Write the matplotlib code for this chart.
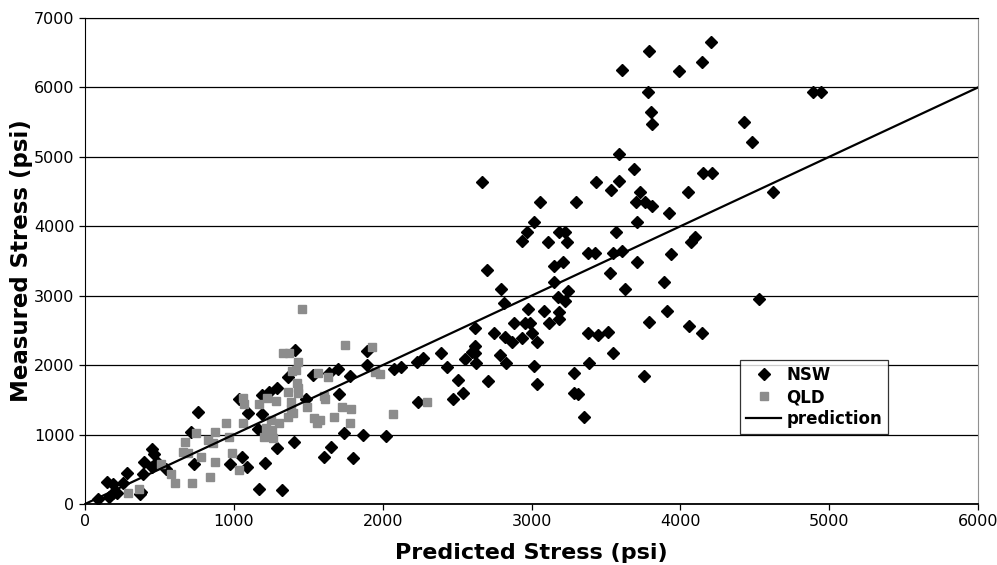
import matplotlib
matplotlib.use("Agg")
import matplotlib.pyplot as plt

# NSW points (predicted, measured) in psi
nsw_x = [89, 163, 190, 216, 150, 190, 257, 283, 375, 370, 391, 397, 447, 453, 462, 484, 543,
         730, 714, 759,
         971, 1054, 1087, 1210, 1172, 1324, 1291, 1407, 1161, 1094, 1186, 1038, 1186, 1239,
         1291, 1362, 1409, 1485, 1529, 1641, 1703, 1780, 1898, 1898, 1708, 1741, 1869, 2021,
         1652, 1608, 1804,
         2076, 2121, 2228, 2273, 2391, 2433, 2507, 2550, 2597, 2623, 2623, 2623, 2628, 2706,
         2541, 2471, 2235, 2751,
         3590, 3688, 3431, 3590, 3535, 3731, 4052, 3056, 3300, 3702, 3762, 3809, 3927, 3019,
         3709, 2972, 3188, 3226, 2938, 3113, 3240, 3570, 4075, 4097, 3382, 3427, 3550, 3610,
         3934, 3215, 3150, 3709, 3528, 3150, 3887, 2793, 3628, 3244, 3177, 3222, 2813, 2979,
         3081, 3910, 3188, 3184, 2885, 2958, 2992, 3119, 3787, 4057, 4146, 2822, 2869, 2938,
         3003, 3034, 3382, 3449, 3512, 3550, 2786, 2831, 3019, 3387, 3034, 3284, 3753, 3284,
         3315, 3356,
         4209, 4146, 4890, 4945, 4427, 4483, 4153, 4215, 4624, 4528,
         3791, 3610, 3992, 3780, 3800, 3810, 2666, 2700]
nsw_y = [72, 100, 154, 163, 320, 290, 298, 451, 169, 140, 428, 601, 528, 793, 721, 601, 504,
         576, 1038, 1330,
         576, 682, 528, 586, 221, 202, 802, 893, 1076, 1307, 1292, 1509, 1571, 1614,
         1667, 1835, 2219, 1518, 1859, 1892, 1941, 1844, 2209, 2003, 1585, 1027, 990, 980,
         817, 673, 668,
         1945, 1970, 2042, 2108, 2172, 1970, 1787, 2085, 2195, 2172, 2281, 2541, 2036, 1768,
         1600, 1513, 1465, 2460,
         5034, 4827, 4644, 4659, 4525, 4492, 4492, 4356, 4356, 4356, 4356, 4290, 4189, 4059,
         4059, 3924, 3924, 3924, 3790, 3771, 3771, 3924, 3771, 3852, 3617, 3617, 3617, 3646,
         3598, 3492, 3434, 3483, 3333, 3199, 3199, 3098, 3098, 3065, 2983, 2925, 2901, 2810,
         2777, 2777, 2771, 2670, 2613, 2613, 2613, 2613, 2627, 2565, 2460, 2406, 2330, 2388,
         2460, 2330, 2460, 2440, 2479, 2172, 2147, 2027, 1989, 2036, 1734, 1883, 1849, 1595,
         1581, 1249,
         6657, 6369, 5937, 5937, 5500, 5212, 4774, 4774, 4492, 2950,
         6528, 6254, 6240, 5940, 5650, 5480, 4640, 3370]

# QLD points
qld_x = [286, 364, 509, 576, 603, 719, 670, 658, 692, 781, 748, 837, 871, 826, 859, 871, 949,
         965, 989, 1033,
         1060, 1067, 1060, 1172, 1224, 1284, 1250, 1301, 1215, 1257, 1206, 1262, 1333, 1368,
         1431, 1391, 1418, 1424, 1429, 1362, 1429, 1384, 1384, 1400, 1362, 1456, 1489, 1563,
         1636, 1608, 1614, 1541, 1556, 1581, 1670, 1726, 1786, 1780, 1746, 1931, 1947, 1980,
         2072, 2295]
qld_y = [163, 221, 572, 428, 298, 298, 898, 754, 730, 682, 1019, 385, 601, 922, 875, 1042, 1163,
         970, 740, 490,
         1523, 1441, 1172, 1436, 1532, 1489, 1210, 1163, 1091, 1065, 958, 950, 2171, 2171,
         2046, 1916, 1931, 1748, 1667, 1614, 1595, 1474, 1364, 1316, 1258, 2806, 1393, 1883,
         1826, 1556, 1513, 1235, 1172, 1210, 1249, 1402, 1369, 1172, 2287, 2258, 1906, 1878,
         1292, 1474]

# prediction line (measured = predicted)
pred_x = [0, 6000]
pred_y = [0, 6000]

fig = plt.figure(figsize=(9.97, 5.65), dpi=100)
ax = fig.add_axes([85 / 997, 61 / 565, 893 / 997, 486 / 565])

ax.set_xlim(0, 6000)
ax.set_ylim(0, 7000)
ax.set_xticks(range(0, 6001, 1000))
ax.set_yticks(range(0, 7001, 1000))
ax.grid(axis="y", color="black", linewidth=0.9)
ax.set_axisbelow(True)

ax.plot(nsw_x, nsw_y, linestyle="none", marker="D", markersize=5.8,
        color="black", label="NSW", zorder=3)
ax.plot(qld_x, qld_y, linestyle="none", marker="s", markersize=6,
        color="#8c8c8c", label="QLD", zorder=3)
ax.plot(pred_x, pred_y, color="black", linewidth=1.6, label="prediction", zorder=4)

for s in ["left", "bottom", "top"]:
    ax.spines[s].set_color("black")
ax.spines["right"].set_color("#909090")
ax.spines["bottom"].set_linewidth(1.3)
ax.tick_params(direction="out", length=4, width=0.9, labelsize=11.5, colors="black")

ax.set_xlabel("Predicted Stress (psi)", fontsize=16, fontweight="bold", labelpad=10)
ax.set_ylabel("Measured Stress (psi)", fontsize=16.5, fontweight="bold", labelpad=1)

leg = ax.legend(loc="upper left", bbox_to_anchor=(0.734, 0.296),
                prop={"weight": "bold", "size": 12}, frameon=True, fancybox=False,
                shadow=False, handlelength=2.1, handletextpad=0.3, labelspacing=0.25,
                borderpad=0.35, borderaxespad=0)
leg.get_frame().set_edgecolor("black")
leg.get_frame().set_linewidth(0.9)

plt.savefig("out.png", dpi=100)
